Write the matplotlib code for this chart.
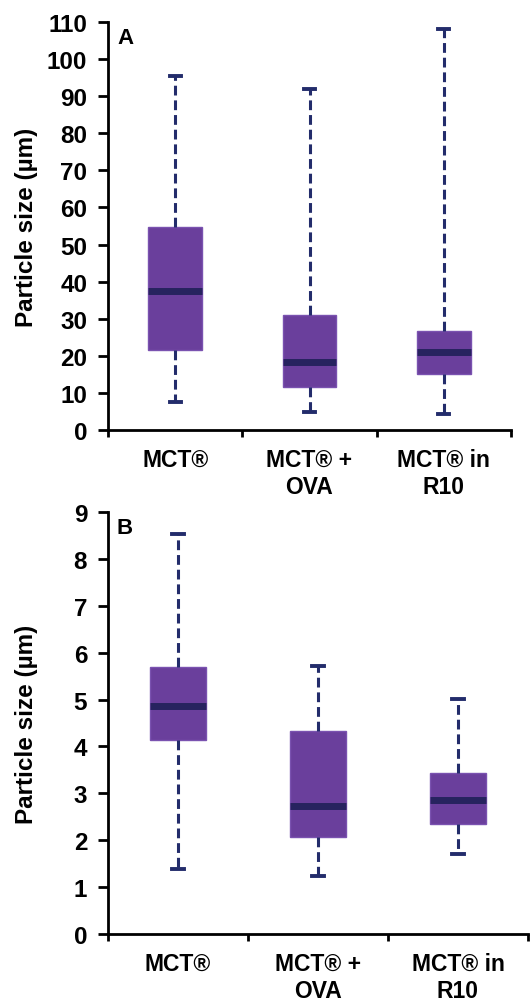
import matplotlib
matplotlib.use('Agg')
import matplotlib.pyplot as plt

plt.rcParams['font.family'] = ['Liberation Sans', 'DejaVu Sans']
plt.rcParams['font.weight'] = 'bold'

# categories (two-line labels)
cats = ['MCT®', 'MCT® +\nOVA', 'MCT® in\nR10']

# panel A: particle size (um) -- whisker low, q1, median, q3, whisker high
a_low = [7.5, 4.9, 4.3]
a_q1 = [21.5, 11.6, 15.1]
a_med = [37.5, 18.3, 21.0]
a_q3 = [54.7, 31.0, 26.7]
a_high = [95.5, 92.0, 108.0]

# panel B
b_low = [1.38, 1.24, 1.70]
b_q1 = [4.13, 2.07, 2.35]
b_med = [4.86, 2.72, 2.86]
b_q3 = [5.69, 4.32, 3.43]
b_high = [8.53, 5.72, 5.02]

box_col = '#6a3f9c'
dark = '#27235f'
wcol = '#232c6b'


def draw(ax, low, q1, med, q3, high, ymax, ystep, letter, wpx):
    stats = []
    for i in range(len(cats)):
        stats.append(dict(whislo=low[i], q1=q1[i], med=med[i], q3=q3[i],
                          whishi=high[i], fliers=[]))
    pos = [0.5, 1.5, 2.5]
    ax.bxp(stats, positions=pos, widths=0.4, capwidths=0.08, patch_artist=True,
           showfliers=False,
           boxprops=dict(facecolor=box_col, edgecolor='#7a52b0', linewidth=1),
           medianprops=dict(color=dark, linewidth=5, solid_capstyle='butt'),
           whiskerprops=dict(color=wcol, linewidth=2.2, linestyle=(0, (3.2, 1.6))),
           capprops=dict(color=wcol, linewidth=2.8))
    ax.set_xlim(0, 3)
    ax.set_ylim(0, ymax)
    ax.set_yticks(range(0, ymax + 1, ystep))
    ax.set_xticks([0, 1, 2, 3])
    ax.set_xticklabels([])
    ax.set_xticks(pos, minor=True)
    ax.set_xticklabels(cats, minor=True, fontsize=16.5, fontweight='bold',
                       linespacing=1.2, va='top')
    ax.tick_params(axis='x', which='minor', length=0, pad=13)
    ax.tick_params(axis='x', which='major', length=5, width=2, direction='out')
    ax.tick_params(axis='y', length=7, width=2, direction='out', labelsize=17.5, pad=8)
    for lb in ax.get_yticklabels():
        lb.set_fontweight('bold')
    for s in ['top', 'right']:
        ax.spines[s].set_visible(False)
    for s in ['left', 'bottom']:
        ax.spines[s].set_linewidth(2)
    ax.set_ylabel('Particle size (µm)', fontsize=17.5, fontweight='bold')
    ax.yaxis.set_label_coords(-70 / wpx, 0.5)
    ax.text(9 / wpx, 0.988, letter, transform=ax.transAxes, fontsize=16,
            fontweight='bold', va='top', ha='left')


fig = plt.figure(figsize=(5.30, 10.03), dpi=100)
axA = fig.add_axes([108 / 530, (1003 - 431) / 1003, 403 / 530, 408 / 1003])
axB = fig.add_axes([108 / 530, (1003 - 935) / 1003, 420 / 530, 422 / 1003])

draw(axA, a_low, a_q1, a_med, a_q3, a_high, 110, 10, 'A', 403)
draw(axB, b_low, b_q1, b_med, b_q3, b_high, 9, 1, 'B', 420)

fig.savefig('out.png', dpi=100)
